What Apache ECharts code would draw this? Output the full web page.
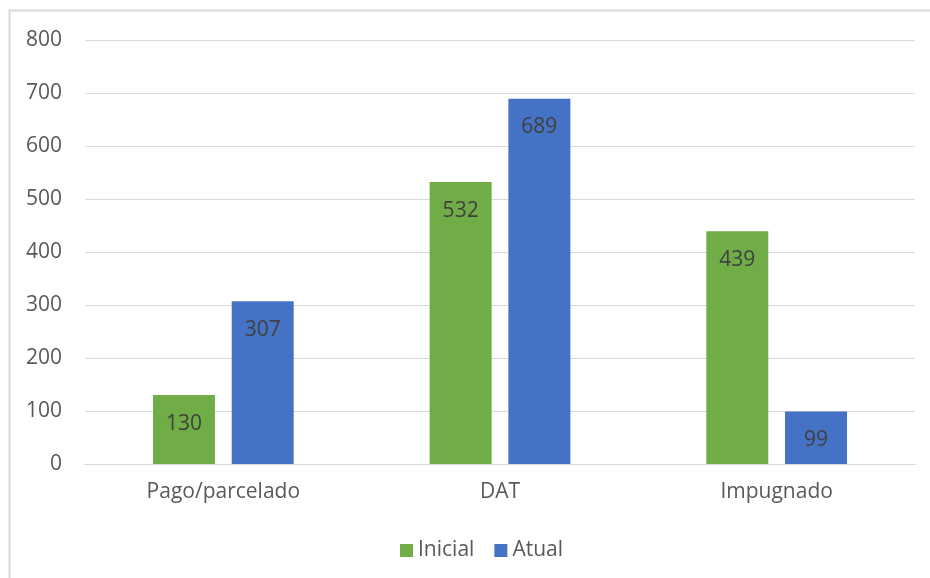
<!DOCTYPE html>
<html>
<head>
<meta charset="utf-8">
<script src="https://cdn.jsdelivr.net/npm/echarts@6/dist/echarts.min.js"></script>
<style>
  html, body { margin: 0; padding: 0; background: #ffffff; }
  #chart { width: 930px; height: 578px; }
</style>
</head>
<body>
<div id="chart"></div>
<script>
// Categories and series values
const categories = ['Pago/parcelado', 'DAT', 'Impugnado'];
const inicial = [130, 532, 439];
const atual = [307, 689, 99];
const yTicks = { min: 0, max: 800, interval: 100 };

const FONT = "'Open Sans', 'Noto Sans', sans-serif";
const FS = 21;

const chart = echarts.init(document.getElementById('chart'), null, { renderer: 'canvas' });

const labelStyle = {
  show: true,
  position: 'insideTop',
  distance: 18,
  color: '#404040',
  fontSize: FS,
  fontFamily: FONT
};

chart.setOption({
  animation: false,
  backgroundColor: '#ffffff',
  graphic: [{
    type: 'rect',
    shape: { x: 9.5, y: 10.5, width: 960, height: 620 },
    style: { fill: 'none', stroke: '#d9d9d9', lineWidth: 2 },
    silent: true
  }],
  grid: { left: 85, right: 15, top: 40, bottom: 114, containLabel: false },
  legend: {
    data: ['Inicial', 'Atual'],
    left: 395,
    top: 535,
    itemWidth: 13,
    itemHeight: 13,
    itemGap: 20,
    icon: 'rect',
    textStyle: { color: '#595959', fontSize: FS, fontFamily: FONT, padding: [0, 0, 0, 0] }
  },
  xAxis: {
    type: 'category',
    data: categories,
    axisLine: { show: true, lineStyle: { color: '#d9d9d9', width: 1 } },
    axisTick: { show: false },
    axisLabel: { color: '#595959', fontSize: FS, fontFamily: FONT, margin: 18 }
  },
  yAxis: {
    type: 'value',
    min: yTicks.min,
    max: yTicks.max,
    interval: yTicks.interval,
    axisLine: { show: false },
    axisTick: { show: false },
    splitLine: { lineStyle: { color: '#d9d9d9', width: 1 } },
    axisLabel: { color: '#595959', fontSize: FS, fontFamily: FONT, margin: 23 }
  },
  series: [
    {
      name: 'Inicial',
      type: 'bar',
      data: inicial,
      barWidth: 62,
      barGap: '27%',
      itemStyle: { color: '#70AD47' },
      label: labelStyle
    },
    {
      name: 'Atual',
      type: 'bar',
      data: atual,
      barWidth: 62,
      itemStyle: { color: '#4472C4' },
      label: labelStyle
    }
  ]
});
</script>
</body>
</html>
